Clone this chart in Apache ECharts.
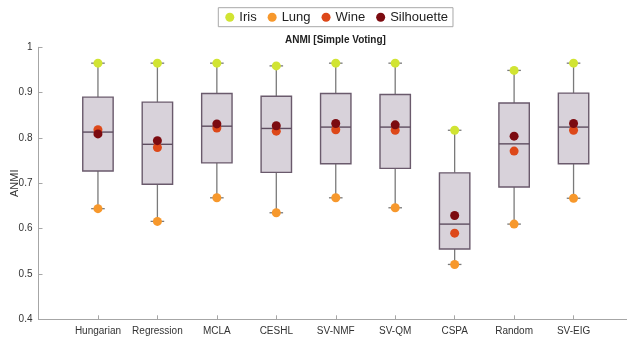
<!DOCTYPE html>
<html>
<head>
<meta charset="utf-8">
<script src="https://cdn.jsdelivr.net/npm/echarts@6/dist/echarts.min.js"></script>
<style>html,body{margin:0;padding:0;background:#fff}#c{width:627px;height:337px}</style>
</head>
<body>
<div id="c"></div>
<script>
// categories (blank ends reproduce the x-limits 0..10)
const categories = ['Hungarian','Regression','MCLA','CESHL','SV-NMF','SV-QM','CSPA','Random','SV-EIG'];
// box statistics: [min, q1, median, q3, max]
const boxMin    = [0.644, 0.616, 0.668, 0.635, 0.668, 0.646, 0.521, 0.610, 0.667];
const boxQ1     = [0.727, 0.698, 0.745, 0.724, 0.743, 0.733, 0.555, 0.692, 0.743];
const boxMedian = [0.813, 0.786, 0.826, 0.821, 0.824, 0.824, 0.610, 0.787, 0.824];
const boxQ3     = [0.890, 0.879, 0.898, 0.892, 0.898, 0.896, 0.723, 0.877, 0.899];
const boxMax    = [0.965, 0.965, 0.965, 0.959, 0.965, 0.965, 0.817, 0.949, 0.965];
// dataset values
const iris       = [0.965, 0.965, 0.965, 0.959, 0.965, 0.965, 0.817, 0.949, 0.965];
const lung       = [0.644, 0.616, 0.668, 0.635, 0.668, 0.646, 0.521, 0.610, 0.667];
const wine       = [0.818, 0.779, 0.822, 0.815, 0.818, 0.817, 0.590, 0.771, 0.817];
const silhouette = [0.809, 0.794, 0.831, 0.827, 0.832, 0.829, 0.629, 0.804, 0.832];
const yTicks = ['0.4','0.5','0.6','0.7','0.8','0.9','1'];

const xCats = [''].concat(categories, ['']);
const boxData = categories.map((c, i) => [i + 1, boxMin[i], boxQ1[i], boxMedian[i], boxQ3[i], boxMax[i]]);
const pts = arr => arr.map((v, i) => [i + 1, v]);

const chart = echarts.init(document.getElementById('c'), null, {renderer: 'canvas'});
const FONT = 'Liberation Sans, Arial, sans-serif';

function renderBox(params, api) {
  const x = api.value(0);
  const pMin = api.coord([x, api.value(1)]);
  const pQ1 = api.coord([x, api.value(2)]);
  const pMed = api.coord([x, api.value(3)]);
  const pQ3 = api.coord([x, api.value(4)]);
  const pMax = api.coord([x, api.value(5)]);
  const cx = pMed[0];
  const hw = 15.2, cw = 6.8;
  const wStyle = {stroke: '#7a7a7a', lineWidth: 1.3};
  return {
    type: 'group',
    children: [
      {type: 'line', shape: {x1: cx, y1: pQ3[1], x2: cx, y2: pMax[1]}, style: wStyle},
      {type: 'line', shape: {x1: cx, y1: pQ1[1], x2: cx, y2: pMin[1]}, style: wStyle},
      {type: 'line', shape: {x1: cx - cw, y1: pMax[1], x2: cx + cw, y2: pMax[1]}, style: wStyle},
      {type: 'line', shape: {x1: cx - cw, y1: pMin[1], x2: cx + cw, y2: pMin[1]}, style: wStyle},
      {type: 'rect', shape: {x: cx - hw, y: pQ3[1], width: 2 * hw, height: pQ1[1] - pQ3[1]},
       style: {fill: '#d8d2da', stroke: '#6a5a6c', lineWidth: 1.4}},
      {type: 'line', shape: {x1: cx - hw, y1: pMed[1], x2: cx + hw, y2: pMed[1]},
       style: {stroke: '#5e4d60', lineWidth: 1.4}}
    ]
  };
}

const dotSeries = (name, data, color) => ({
  name, type: 'scatter', data: pts(data), symbol: 'circle', symbolSize: 9,
  itemStyle: {color, opacity: 1}, z: 5, silent: true
});

chart.setOption({
  animation: false,
  backgroundColor: '#ffffff',
  textStyle: {fontFamily: FONT},
  title: {
    text: 'ANMI [Simple Voting]', left: 285, top: 35, padding: 0,
    textStyle: {fontSize: 10, fontWeight: 'bold', color: '#222', fontFamily: FONT}
  },
  legend: {
    top: 7.7, left: 218.3, orient: 'horizontal',
    padding: [3, 5, 3, 7], itemGap: 11,
    itemWidth: 9, itemHeight: 9, icon: 'circle',
    borderColor: '#a8a8a8', borderWidth: 1, backgroundColor: '#fff',
    textStyle: {fontSize: 13, color: '#222', fontFamily: FONT},
    data: ['Iris', 'Lung', 'Wine', 'Silhouette']
  },
  grid: {left: 38.5, top: 47.3, width: 594.5, height: 272, containLabel: false, outerBoundsMode: 'none'},
  xAxis: {
    type: 'category', data: xCats, boundaryGap: false,
    axisLine: {lineStyle: {color: '#a6a6a6', width: 1}},
    axisTick: {inside: true, length: 4, lineStyle: {color: '#a6a6a6'},
               interval: (idx) => idx >= 1 && idx <= categories.length},
    axisLabel: {interval: 0, fontSize: 10, color: '#333', margin: 7, fontFamily: FONT},
    splitLine: {show: false}
  },
  yAxis: {
    type: 'value', min: 0.4, max: 1, interval: 0.1,
    name: 'ANMI', nameLocation: 'middle', nameGap: 18, nameMoveOverlap: false,
    nameTextStyle: {fontSize: 11, color: '#333', fontFamily: FONT},
    axisLine: {show: true, lineStyle: {color: '#a6a6a6', width: 1}},
    axisTick: {show: true, inside: true, length: 4, lineStyle: {color: '#a6a6a6'}},
    axisLabel: {fontSize: 10, color: '#333', margin: 6, fontFamily: FONT,
                formatter: (v) => yTicks[Math.round((v - 0.4) * 10)]},
    splitLine: {show: false}
  },
  series: [
    {type: 'custom', renderItem: renderBox, data: boxData, z: 2, silent: true,
     encode: {x: 0, y: [1, 2, 3, 4, 5]}},
    dotSeries('Iris', iris, '#d1e433'),
    dotSeries('Lung', lung, '#f7982c'),
    dotSeries('Wine', wine, '#dd4819'),
    dotSeries('Silhouette', silhouette, '#7c0b10')
  ]
});
</script>
</body>
</html>
